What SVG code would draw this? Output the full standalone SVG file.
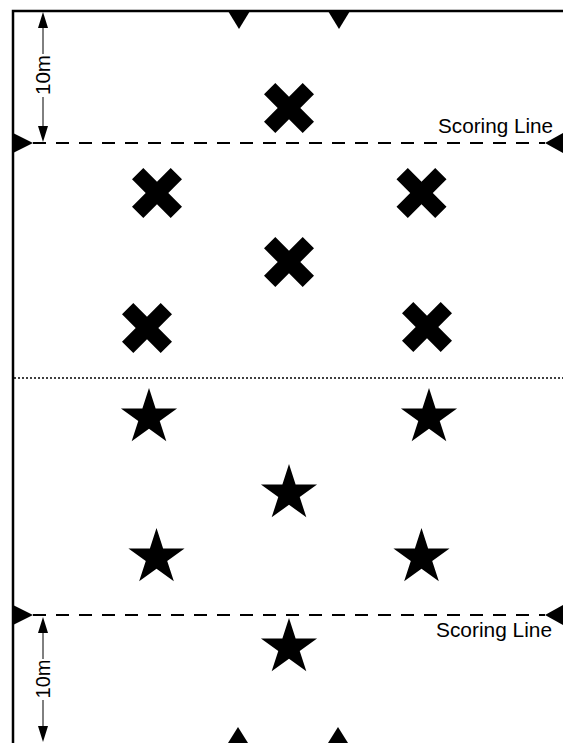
<svg xmlns="http://www.w3.org/2000/svg" xmlns:xlink="http://www.w3.org/1999/xlink" width="563" height="743" viewBox="0 0 563 743">
<style>
.border{stroke:#000;stroke-width:2.5;fill:none}
.score{stroke:#000;stroke-width:2;stroke-dasharray:13 10;fill:none}
.mid{stroke:#000;stroke-width:1.6;stroke-dasharray:2 2;fill:none}
.dim{stroke:#000;stroke-width:1;fill:none}
.tri{fill:#000}
.lbl{font-family:"Liberation Sans",Arial,sans-serif;font-size:20px;fill:#000}
</style>
<defs>
<polygon id="star" points="0,-29.5 6.62,-9.12 28.06,-9.12 10.72,3.48 17.34,23.87 0,11.27 -17.34,23.87 -10.72,3.48 -28.06,-9.12 -6.62,-9.12"/>
<polygon id="cross" points="0,-11.3 13.7,-25 25,-13.7 11.3,0 25,13.7 13.7,25 0,11.3 -13.7,25 -25,13.7 -11.3,0 -25,-13.7 -13.7,-25"/>
</defs>
<rect width="563" height="743" fill="#fff"/>
<g id="field">
<path class="border" d="M13,743 V11 H563"/>
<line class="mid" x1="14" y1="378" x2="563" y2="378"/>
<polygon class="tri" points="228,11 250,11 239,29"/>
<polygon class="tri" points="328,11 350,11 339,29"/>
<polygon class="tri" points="228,743 248,743 238,727"/>
<polygon class="tri" points="328,743 348,743 338,727"/>
</g>
<g id="scoring-top">
<line class="score" x1="33" y1="143" x2="545" y2="143"/>
<polygon class="tri" points="13,133 13,153 33,143"/>
<polygon class="tri" points="563,133 563,153 545,143"/>
<text class="lbl" x="553" y="133" text-anchor="end" textLength="115" lengthAdjust="spacingAndGlyphs">Scoring Line</text>
</g>
<g id="scoring-bottom">
<line class="score" x1="33" y1="615" x2="545" y2="615"/>
<polygon class="tri" points="13,605 13,625 33,615"/>
<polygon class="tri" points="563,605 563,625 545,615"/>
<text class="lbl" x="552" y="637" text-anchor="end" textLength="116" lengthAdjust="spacingAndGlyphs">Scoring Line</text>
</g>
<g id="dim-top">
<line class="dim" x1="43" y1="26" x2="43" y2="54"/>
<line class="dim" x1="43" y1="97" x2="43" y2="127"/>
<polygon class="tri" points="43,12 38,28 48,28"/>
<polygon class="tri" points="43,142 38,126 48,126"/>
<text class="lbl" transform="translate(50,75) rotate(-90)" text-anchor="middle" textLength="40" lengthAdjust="spacingAndGlyphs">10m</text>
</g>
<g id="dim-bottom">
<line class="dim" x1="43" y1="631" x2="43" y2="659"/>
<line class="dim" x1="43" y1="700" x2="43" y2="727"/>
<polygon class="tri" points="43,617 38,633 48,633"/>
<polygon class="tri" points="43,742 38,726 48,726"/>
<text class="lbl" transform="translate(50,679) rotate(-90)" text-anchor="middle" textLength="39" lengthAdjust="spacingAndGlyphs">10m</text>
</g>
<g id="x1"><use xlink:href="#cross" x="289" y="108"/></g>
<g id="x2"><use xlink:href="#cross" x="157" y="193"/></g>
<g id="x3"><use xlink:href="#cross" x="421.5" y="193"/></g>
<g id="x4"><use xlink:href="#cross" x="289" y="262"/></g>
<g id="x5"><use xlink:href="#cross" x="147" y="328"/></g>
<g id="x6"><use xlink:href="#cross" x="427" y="327"/></g>
<g id="s1"><use xlink:href="#star" x="149" y="417.5"/></g>
<g id="s2"><use xlink:href="#star" x="429" y="417.5"/></g>
<g id="s3"><use xlink:href="#star" x="289" y="493.5"/></g>
<g id="s4"><use xlink:href="#star" x="156.5" y="557.5"/></g>
<g id="s5"><use xlink:href="#star" x="421.5" y="557.5"/></g>
<g id="s6"><use xlink:href="#star" x="289" y="647.5"/></g>
</svg>
